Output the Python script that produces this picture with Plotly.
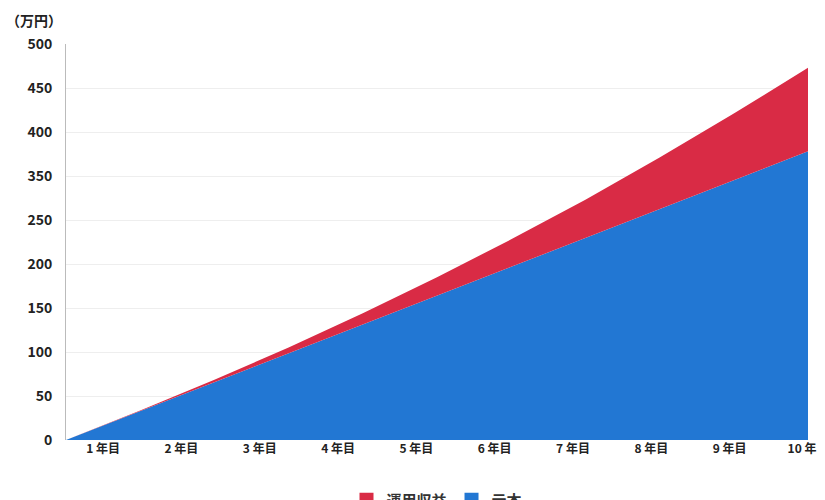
import plotly.graph_objects as go

years = list(range(0, 11))
principal = [0, 32.8, 65.6, 98.4, 131.2, 164.0, 196.8, 229.6, 262.4, 295.2, 328.0]
total = [0, 33.5, 68.5, 105, 144, 185, 228, 273, 321, 371, 423]
x_labels = ["1 年目", "2 年目", "3 年目", "4 年目", "5 年目", "6 年目", "7 年目", "8 年目", "9 年目", "10 年目"]
y_labels = ["0", "50", "100", "150", "200", "250", "350", "400", "450", "500"]
blue = "#2277d3"
red = "#d92b45"

font = "Noto Sans CJK JP"
fig = go.Figure()
fig.add_trace(go.Scatter(x=years, y=principal, mode="lines", line=dict(width=0),
                         fill="tozeroy", fillcolor=blue, showlegend=False))
fig.add_trace(go.Scatter(x=years, y=total, mode="lines", line=dict(width=0),
                         fill="tonexty", fillcolor=red, showlegend=False))
# legend entries with square swatches
fig.add_trace(go.Scatter(x=[None], y=[None], name="<b>運用収益</b>", mode="markers",
                         marker=dict(symbol="square", size=14, color=red)))
fig.add_trace(go.Scatter(x=[None], y=[None], name="<b>元本</b>", mode="markers",
                         marker=dict(symbol="square", size=14, color=blue)))

fig.update_layout(
    width=825, height=500, plot_bgcolor="white", paper_bgcolor="white",
    margin=dict(l=58, r=25, t=36, b=68, autoexpand=False),
    font=dict(family=font, size=13, color="#222"),
    legend=dict(orientation="h", x=0.5, xanchor="center", y=-0.11, yanchor="top",
                font=dict(size=15, color="#333"), traceorder="normal"),
    xaxis=dict(range=[0, 10], tickvals=[0.5 + i * 9.5 / 9 for i in range(10)],
               ticktext=["<b>%s</b>" % t for t in x_labels],
               showgrid=False, zeroline=False, showline=False, ticks="", automargin=False,
               tickfont=dict(size=12, color="#222", family=font)),
    yaxis=dict(range=[0, 450], tickvals=[i * 50 for i in range(10)],
               ticktext=["<b>%s</b>" % t for t in y_labels],
               showgrid=True, gridcolor="#eeeeee", zeroline=False, showline=True,
               linecolor="#bbbbbb", ticks="", ticklabelstandoff=10, automargin=False,
               tickfont=dict(size=14, color="#222", family=font)),
    annotations=[dict(text="<b>（万円）</b>", x=0, y=1, xref="paper", yref="paper", xshift=-62, yshift=36,
                      xanchor="left", yanchor="top", showarrow=False, font=dict(size=14, color="#222"))],
)
fig.write_html("out.html")
